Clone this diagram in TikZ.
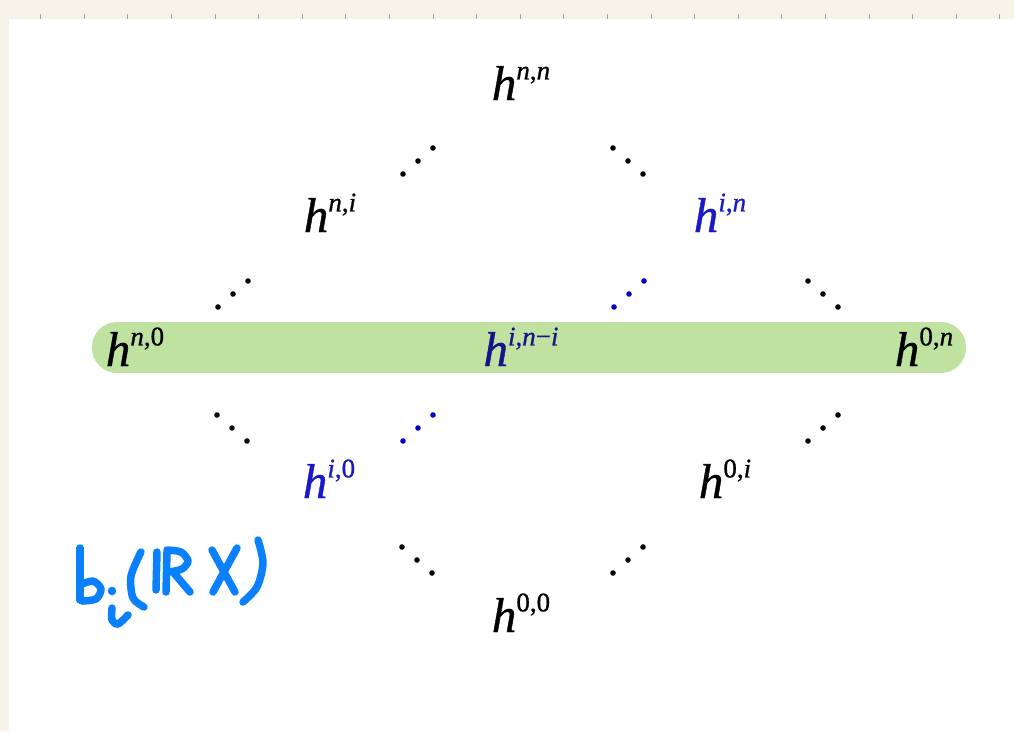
\documentclass[tikz,border=0pt]{standalone}
\usepackage{fontspec}
\setmainfont{Liberation Serif}
\newfontfamily\hfont[FakeBold=0.8]{Liberation Serif}
\definecolor{cream}{RGB}{246,244,232}
\definecolor{tickgray}{RGB}{165,165,150}
\definecolor{barGreen}{RGB}{192,226,160}
\definecolor{hblue}{RGB}{25,25,200}
\definecolor{hnavy}{RGB}{20,20,140}
\definecolor{dotblue}{RGB}{0,0,205}
\definecolor{penblue}{RGB}{10,128,255}
\newcommand\hodge[1]{\textit{h}\raisebox{0.42em}{\fontsize{27}{29}\selectfont #1}}
\tikzset{
  hnode/.style={anchor=base, inner sep=0pt, font=\hfont\fontsize{49}{52}\selectfont},
  pen/.style={draw=penblue, line width=7.5pt, line cap=round, line join=round},
}
\newcommand\dotrow[4]{% x,y of middle dot, direction (1 = up-right, -1 = down-right), colour
  \fill[#4] (#1-15,#2+13*#3) circle (2.8);
  \fill[#4] (#1,#2) circle (2.8);
  \fill[#4] (#1+15,#2-13*#3) circle (2.8);
}
\begin{document}
\begin{tikzpicture}[x=1pt,y=-1pt]
\useasboundingbox (0,0) rectangle (1014,731);
\fill[cream] (0,0) rectangle (1014,731);
\fill[white] (9,19) rectangle (1014,731);
\foreach \k in {0,...,22} {
  \draw[tickgray, line width=1pt] ({40.7+\k*43.6},14) -- ({40.7+\k*43.6},19);
}
% green bar
\fill[barGreen, rounded corners=25pt] (92,322) rectangle (966,373);
% Hodge numbers
\node[hnode] (hnn) at (521,100) {\hodge{\textit{n},\textit{n}}};
\node[hnode] (hni) at (330,232) {\hodge{\textit{n},\textit{i}}};
\node[hnode, text=hblue] (hin) at (720,232) {\hodge{\textit{i},\textit{n}}};
\node[hnode] (hn0) at (135,366) {\hodge{\textit{n},0}};
\node[hnode, text=hnavy] (hinmi) at (521,366) {\hodge{\textit{i},\textit{n}−\textit{i}}};
\node[hnode] (h0n) at (924,366) {\hodge{0,\textit{n}}};
\node[hnode, text=hblue] (hi0) at (329,498) {\hodge{\textit{i},0}};
\node[hnode] (h0i) at (725,498) {\hodge{0,\textit{i}}};
\node[hnode] (h00) at (521,632) {\hodge{0,0}};
% dots
\dotrow{418}{161}{1}{black}
\dotrow{628}{161}{-1}{black}
\dotrow{233}{294}{1}{black}
\dotrow{629}{294}{1}{dotblue}
\dotrow{823}{294}{-1}{black}
\dotrow{232}{428}{-1}{black}
\dotrow{418}{428}{1}{dotblue}
\dotrow{823}{428}{1}{black}
\dotrow{417}{560}{-1}{black}
\dotrow{628}{560}{1}{black}
% handwriting b_i(IRX)
\draw[pen] (80,548) -- (80,600);
\draw[pen] plot[smooth] coordinates {(80,585) (93,581) (101,589) (96,599) (82,601)};
\fill[penblue] (112,591) circle (4.3);
\draw[pen] plot[smooth] coordinates {(112,608) (112,620) (118,624) (128,615)};
\draw[pen] plot[smooth] coordinates {(141,552) (131,576) (133,598) (144,607)};
\draw[pen] (157,552) -- (156,590);
\draw[pen] (167,552) -- (166,592);
\draw[pen] plot[smooth] coordinates {(167,550) (181,552) (188,561) (182,569) (169,572)};
\draw[pen] (173,572) -- (190,592);
\draw[pen] (212,550) -- (235,592);
\draw[pen] (237,548) -- (213,592);
\draw[pen] plot[smooth] coordinates {(258,540) (263,563) (257,587) (243,602)};
\end{tikzpicture}
\end{document}
